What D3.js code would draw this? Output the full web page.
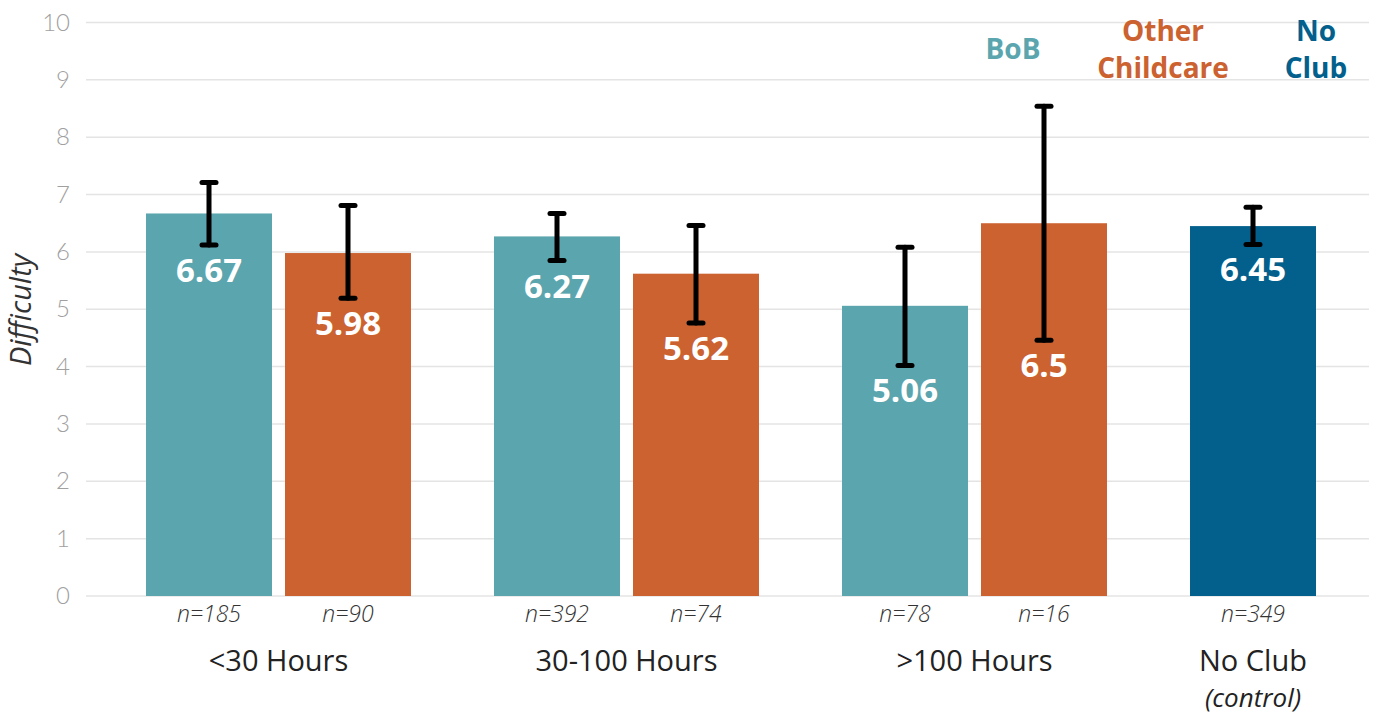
<!DOCTYPE html>
<html>
<head>
<meta charset="utf-8">
<script src="https://cdn.jsdelivr.net/npm/d3@7"></script>
<style>
  html, body { margin: 0; padding: 0; background: #fff; }
  svg { display: block; }
</style>
</head>
<body>
<svg id="chart" width="1383" height="714"></svg>
<script>
// ---- Data ----
const groups = ["<30 Hours", "30-100 Hours", ">100 Hours", "No Club"];
const series = ["BoB", "Other Childcare", "No Club"];
const bobValues   = [6.67, 6.27, 5.06];
const bobLow      = [6.12, 5.85, 4.02];
const bobHigh     = [7.21, 6.67, 6.08];
const bobN        = ["n=185", "n=392", "n=78"];
const otherValues = [5.98, 5.62, 6.5];
const otherLow    = [5.19, 4.76, 4.46];
const otherHigh   = [6.81, 6.46, 8.54];
const otherN      = ["n=90", "n=74", "n=16"];
const noClubValue = [6.45];
const noClubLow   = [6.13];
const noClubHigh  = [6.78];
const noClubN     = ["n=349"];
const yTicks = [0, 1, 2, 3, 4, 5, 6, 7, 8, 9, 10];
const colors = { "BoB": "#5ba5ae", "Other Childcare": "#cb6230", "No Club": "#03608c" };

// ---- Build rows ----
const rows = [];
for (let i = 0; i < 3; i++) {
  rows.push({ group: groups[i], series: "BoB", slot: "a", v: bobValues[i], lo: bobLow[i], hi: bobHigh[i], n: bobN[i] });
  rows.push({ group: groups[i], series: "Other Childcare", slot: "b", v: otherValues[i], lo: otherLow[i], hi: otherHigh[i], n: otherN[i] });
}
rows.push({ group: groups[3], series: "No Club", slot: "a", v: noClubValue[0], lo: noClubLow[0], hi: noClubHigh[0], n: noClubN[0] });

const svg = d3.select("#chart");
const font = "'Open Sans', 'Noto Sans', sans-serif";

// ---- Scales ----
const y = d3.scaleLinear().domain([0, 10]).range([596, 22.5]);
const x0 = d3.scaleBand().domain(groups).range([146, 1455]).paddingInner(83 / 348).paddingOuter(0);
const x1 = d3.scaleBand().domain(["a", "b"]).range([0, x0.bandwidth()]).paddingInner(13 / 139).paddingOuter(0);

// ---- Gridlines ----
svg.append("g").selectAll("line").data(yTicks).join("line")
  .attr("x1", 86).attr("x2", 1369)
  .attr("y1", d => y(d)).attr("y2", d => y(d))
  .attr("stroke", "#e4e4e4").attr("stroke-width", 1.5);

// ---- Y axis labels ----
const yAxis = d3.axisLeft(y).tickValues(yTicks).tickSize(0).tickPadding(0);
const yg = svg.append("g").attr("transform", "translate(70,0)").call(yAxis);
yg.select(".domain").remove();
yg.selectAll("text")
  .attr("font-family", "Lato, 'Open Sans', sans-serif")
  .attr("font-weight", 300)
  .attr("font-size", 24)
  .attr("fill", "#a0a0a0");

// ---- Y title ----
svg.append("text")
  .attr("transform", "translate(31,310) rotate(-90)")
  .attr("text-anchor", "middle")
  .attr("font-family", font)
  .attr("font-style", "italic")
  .attr("font-size", 29)
  .attr("fill", "#333")
  .text("Difficulty");

// ---- Bars ----
const bx = d => x0(d.group) + x1(d.slot);
const cx = d => bx(d) + x1.bandwidth() / 2;

svg.append("g").selectAll("rect").data(rows).join("rect")
  .attr("x", bx)
  .attr("y", d => y(d.v))
  .attr("width", x1.bandwidth())
  .attr("height", d => y(0) - y(d.v))
  .attr("fill", d => colors[d.series]);

// ---- Error bars ----
const eg = svg.append("g").attr("stroke", "#000").attr("stroke-linecap", "round");
eg.selectAll("line.stem").data(rows).join("line").attr("class", "stem")
  .attr("x1", cx).attr("x2", cx)
  .attr("y1", d => y(d.hi)).attr("y2", d => y(d.lo))
  .attr("stroke-width", 5);
eg.selectAll("line.capT").data(rows).join("line").attr("class", "capT")
  .attr("x1", d => cx(d) - 7).attr("x2", d => cx(d) + 7)
  .attr("y1", d => y(d.hi)).attr("y2", d => y(d.hi))
  .attr("stroke-width", 5);
eg.selectAll("line.capB").data(rows).join("line").attr("class", "capB")
  .attr("x1", d => cx(d) - 7).attr("x2", d => cx(d) + 7)
  .attr("y1", d => y(d.lo)).attr("y2", d => y(d.lo))
  .attr("stroke-width", 5);

// ---- Value labels ----
svg.append("g").selectAll("text").data(rows).join("text")
  .attr("x", cx)
  .attr("y", d => y(d.lo) + 37)
  .attr("text-anchor", "middle")
  .attr("font-family", font)
  .attr("font-weight", 700)
  .attr("font-size", 33)
  .attr("fill", "#fff")
  .text(d => String(d.v));

// ---- n labels ----
svg.append("g").selectAll("text").data(rows).join("text")
  .attr("x", cx)
  .attr("y", 622)
  .attr("text-anchor", "middle")
  .attr("font-family", font)
  .attr("font-style", "italic")
  .attr("font-weight", 300)
  .attr("font-size", 23)
  .attr("fill", "#333")
  .text(d => d.n);

// ---- Category labels ----
const catX = g => g === "No Club" ? x0(g) + x1("a") + x1.bandwidth() / 2 : x0(g) + x0.bandwidth() / 2;
svg.append("g").selectAll("text").data(groups).join("text")
  .attr("x", catX)
  .attr("y", 671)
  .attr("text-anchor", "middle")
  .attr("font-family", font)
  .attr("font-weight", 500)
  .attr("font-size", 29)
  .attr("fill", "#222")
  .text(d => d);
svg.append("text")
  .attr("x", catX("No Club"))
  .attr("y", 707)
  .attr("text-anchor", "middle")
  .attr("font-family", font)
  .attr("font-style", "italic")
  .attr("font-size", 26)
  .attr("fill", "#222")
  .text("(control)");

// ---- Legend ----
const legend = [
  { s: "BoB", x: 1013, lines: ["BoB"], y0: 59 },
  { s: "Other Childcare", x: 1163, lines: ["Other", "Childcare"], y0: 41 },
  { s: "No Club", x: 1316, lines: ["No", "Club"], y0: 41 }
];
legend.forEach(l => {
  const t = svg.append("text")
    .attr("text-anchor", "middle")
    .attr("font-family", font)
    .attr("font-weight", 700)
    .attr("font-size", 28)
    .attr("fill", colors[l.s]);
  l.lines.forEach((ln, i) => {
    t.append("tspan").attr("x", l.x).attr("y", l.y0 + i * 37).text(ln);
  });
});
</script>
</body>
</html>
